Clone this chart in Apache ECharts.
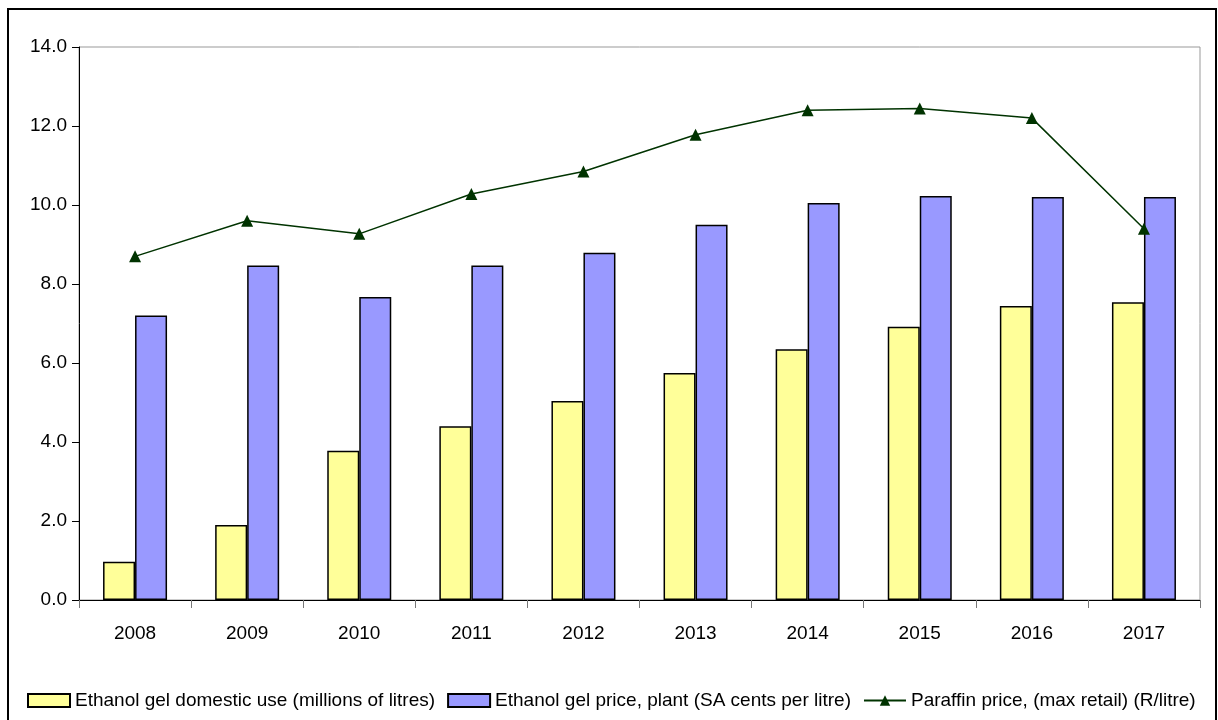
<!DOCTYPE html>
<html>
<head>
<meta charset="utf-8">
<script src="https://cdn.jsdelivr.net/npm/echarts@6/dist/echarts.min.js"></script>
<style>
  html, body { margin: 0; padding: 0; background: #fff; }
  #chart { width: 1218px; height: 720px; }
</style>
</head>
<body>
<div id="chart"></div>
<script>
const years = ['2008', '2009', '2010', '2011', '2012', '2013', '2014', '2015', '2016', '2017'];
const gelUse = [0.97, 1.9, 3.78, 4.4, 5.04, 5.75, 6.35, 6.92, 7.44, 7.54];
const gelPrice = [7.2, 8.47, 7.67, 8.47, 8.79, 9.5, 10.05, 10.23, 10.2, 10.2];
const paraffin = [8.7, 9.6, 9.27, 10.28, 10.85, 11.78, 12.4, 12.44, 12.2, 9.4];

const FONT = 'Liberation Sans, Arial, sans-serif';

const chart = echarts.init(document.getElementById('chart'));

chart.setOption({
  animation: false,
  textStyle: { fontFamily: FONT },
  graphic: [{
    type: 'rect',
    shape: { x: 8, y: 9, width: 1208, height: 720 },
    style: { fill: 'none', stroke: '#000', lineWidth: 2 },
    silent: true,
  }],
  grid: {
    left: 79, right: 18, top: 47, bottom: 120,
    show: true, borderColor: '#999', borderWidth: 1,
  },
  legend: {
    left: 22, top: 686,
    itemWidth: 42, itemHeight: 13, itemGap: 12,
    textStyle: { fontSize: 19, color: '#000', fontFamily: FONT },
    data: [
      { name: 'Ethanol gel domestic use (millions of litres)', icon: 'rect' },
      { name: 'Ethanol gel price, plant (SA cents per litre)', icon: 'rect' },
      { name: 'Paraffin price, (max retail) (R/litre)' },
    ],
  },
  xAxis: {
    type: 'category',
    data: years,
    axisLine: { lineStyle: { color: '#000', width: 1 } },
    axisTick: { show: true, length: 8, lineStyle: { color: '#777' } },
    axisLabel: { fontSize: 19, color: '#000', margin: 24 },
  },
  yAxis: {
    type: 'value',
    min: 0, max: 14, interval: 2,
    axisLine: { show: true, lineStyle: { color: '#000', width: 1 } },
    axisTick: { show: true, length: 7, lineStyle: { color: '#000' } },
    splitLine: { show: false },
    axisLabel: {
      fontSize: 19, color: '#000', margin: 12,
      formatter: v => v.toFixed(1),
    },
  },
  series: [
    {
      name: 'Ethanol gel domestic use (millions of litres)',
      type: 'bar',
      data: gelUse,
      barWidth: 32,
      barGap: '0%',
      itemStyle: { color: '#FFFF99', borderColor: '#000', borderWidth: 1.5 },
    },
    {
      name: 'Ethanol gel price, plant (SA cents per litre)',
      type: 'bar',
      data: gelPrice,
      barWidth: 32,
      barGap: '0%',
      itemStyle: { color: '#9999FF', borderColor: '#000', borderWidth: 1.5 },
    },
    {
      name: 'Paraffin price, (max retail) (R/litre)',
      type: 'line',
      data: paraffin,
      symbol: 'triangle',
      symbolSize: 12,
      color: '#003300',
      lineStyle: { color: '#003300', width: 1.5 },
      itemStyle: { color: '#003300' },
      z: 5,
    },
  ],
});
</script>
</body>
</html>
